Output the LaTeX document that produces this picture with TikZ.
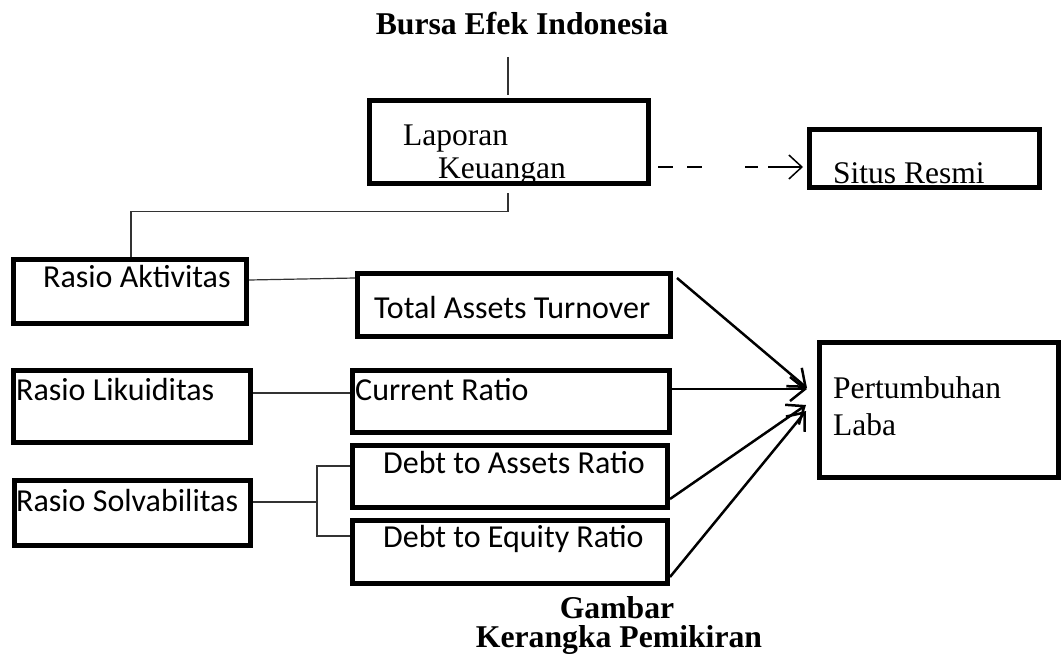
\documentclass[tikz,border=0pt]{standalone}
\usepackage{fontspec}
\setmainfont{Liberation Serif}
\newfontfamily\calfont{Carlito}
\usetikzlibrary{arrows.meta,calc}
\begin{document}
\begin{tikzpicture}[x=1pt,y=-1pt,
  box/.style={draw, line width=5pt, inner sep=0pt, outer sep=2.5pt},
  ser/.style={inner sep=0pt, anchor=base west, font=\fontsize{31.5}{36}\selectfont},
  cal/.style={inner sep=0pt, anchor=base west, font=\calfont\fontsize{32}{36}\selectfont},
  ttl/.style={inner sep=0pt, anchor=base, font=\bfseries\fontsize{31.7}{36}\selectfont},
  conn/.style={line width=1.2pt, black!80},
  arr/.style={line width=2.5pt, -{Straight Barb[length=15pt,width=24pt]}},
  dsh/.style={line width=1.5pt, dash pattern=on 15pt off 14pt on 15pt off 43pt on 13pt off 10pt on 200pt, -{Straight Barb[length=13pt,width=24pt]}}]
\useasboundingbox (0,0) rectangle (1061,661);

% boxes
\node[box, minimum width=279pt, minimum height=83pt] (lap) at (509,142) {};
\node[box, minimum width=230pt, minimum height=58pt] (situs) at (924.5,158.5) {};
\node[box, minimum width=233pt, minimum height=64pt] (aktiv) at (130,291.5) {};
\node[box, minimum width=237pt, minimum height=72pt] (likui) at (132,406.5) {};
\node[box, minimum width=236pt, minimum height=65pt] (solv) at (132.5,513) {};
\node[box, minimum width=313pt, minimum height=63pt] (tat) at (514,305) {};
\node[box, minimum width=317pt, minimum height=62pt] (cr) at (511,401.5) {};
\node[box, minimum width=315pt, minimum height=62pt] (dar) at (510,476.5) {};
\node[box, minimum width=315pt, minimum height=63pt] (der) at (510,552) {};
\node[box, minimum width=239pt, minimum height=135pt] (pert) at (939,410) {};

% texts
\node[ttl] (title) at (522,35) {Bursa Efek Indonesia};
\node[ser] (tlap1) at (403,145) {Laporan};
\node[ser] (tlap2) at (438,178) {Keuangan};
\node[ser] (tsitus) at (833,183) {Situs Resmi};
\node[ser] (tpert1) at (833,398) {Pertumbuhan};
\node[ser] (tpert2) at (833,435) {Laba};
\node[cal] (taktiv) at (43,287) {Rasio Aktivitas};
\node[cal] (tlikui) at (16,400) {Rasio Likuiditas};
\node[cal] (tsolv) at (16,511) {Rasio Solvabilitas};
\node[cal] (ttat) at (374,318) {Total Assets Turnover};
\node[cal] (tcr) at (355,400) {Current Ratio};
\node[cal] (tdar) at (383,473) {Debt to Assets Ratio};
\node[cal] (tder) at (383,547) {Debt to Equity Ratio};
\node[ttl, text depth=0pt] (cap1) at (617,618) {Gambar};
\node[ttl, text height=21pt] (cap2) at (619,647) {Kerangka Pemikiran};

% connectors
\coordinate (top) at (508,57);
\coordinate (jn) at (131,211.5);
\coordinate (br) at (317,502);
\draw[conn] (top) -- ([xshift=-1pt,yshift=3pt]lap.north);
\draw[conn] ([xshift=-1pt,yshift=-7pt]lap.south) |- (jn) -- (aktiv.north -| jn);
\draw[conn] ([yshift=11.5pt]aktiv.east) -- ([yshift=27pt]tat.west);
\draw[conn] ([yshift=13.5pt]likui.east) -- ([yshift=8.5pt]cr.west);
\draw[conn] ([yshift=11pt]solv.east) -- (br);
\draw[conn] ([yshift=10.5pt]dar.west) -| (br);
\draw[conn] ([yshift=16pt]der.west) -| (br);

\draw[dsh] ([xshift=7pt,yshift=-25pt]lap.east) -- ([xshift=-4pt,yshift=-8.5pt]situs.west);

\draw[arr] ([xshift=4pt,yshift=-7pt]tat.north east) -- ([xshift=-10pt,yshift=22pt]pert.west);
\draw[arr] ([yshift=12.5pt]cr.east) -- ([xshift=-10pt,yshift=21pt]pert.west);
\draw[arr] ([yshift=11pt]dar.south east) -- ([xshift=-11pt,yshift=5pt]pert.west);
\draw[arr] ([yshift=9pt]der.south east) -- ([xshift=-11pt,yshift=-1pt]pert.west);
\end{tikzpicture}
\end{document}
